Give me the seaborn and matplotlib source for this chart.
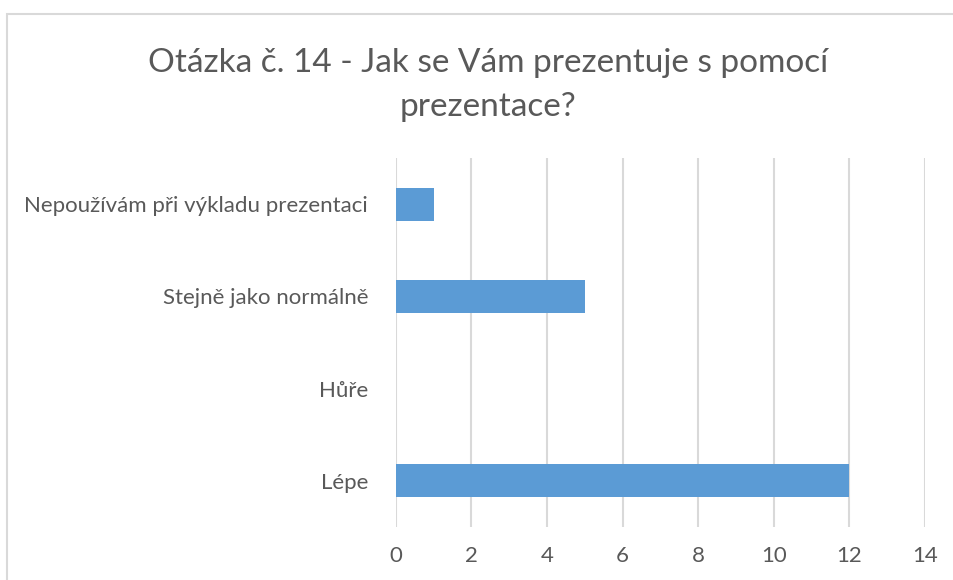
import matplotlib
matplotlib.use("Agg")
import matplotlib.pyplot as plt
import seaborn as sns
import pandas as pd
from matplotlib.patches import Rectangle

# Data
categories = ["Nepoužívám při výkladu prezentaci", "Stejně jako normálně", "Hůře", "Lépe"]
counts = [1, 5, 0, 12]
x_ticks = [0, 2, 4, 6, 8, 10, 12, 14]

title = "Otázka č. 14 - Jak se Vám prezentuje s pomocí\nprezentace?"

text_gray = "#595959"
grid_gray = "#D9D9D9"
bar_blue = "#5B9BD5"

sns.set_style("white")
plt.rcParams["font.family"] = ["Lato", "DejaVu Sans"]

df = pd.DataFrame({"answer": categories, "count": counts})

fig = plt.figure(figsize=(9.54, 5.80), dpi=100)
ax = fig.add_axes([0.415, 0.0914, 0.5546, 0.6362])

sns.barplot(data=df, x="count", y="answer", orient="h", color=bar_blue,
            width=0.36, linewidth=0, saturation=1, ax=ax)

ax.set_xlim(0, 14)
ax.set_ylim(3.5, -0.5)
ax.set_xticks(x_ticks)
ax.set_xticklabels([str(t) for t in x_ticks])
ax.xaxis.grid(True, color=grid_gray, linewidth=1.5)
ax.set_axisbelow(True)
for s in ax.spines.values():
    s.set_visible(False)
ax.tick_params(axis="x", length=0, pad=14, labelsize=16, labelcolor=text_gray)
ax.tick_params(axis="y", length=0, pad=20, labelsize=16, labelcolor=text_gray)
ax.set_xlabel("")
ax.set_ylabel("")

fig.text(0.512, 0.918, title, ha="center", va="top", fontsize=24,
         color=text_gray, linespacing=1.6)

# chart-area border (only left and top edges visible in the crop)
fig.patches.append(Rectangle((7 / 954, -0.1), 1.2, 1 - 14 / 580 + 0.1,
                             transform=fig.transFigure, fill=False,
                             edgecolor=grid_gray, linewidth=1.5))

plt.savefig("out.png", dpi=100)
plt.close()
